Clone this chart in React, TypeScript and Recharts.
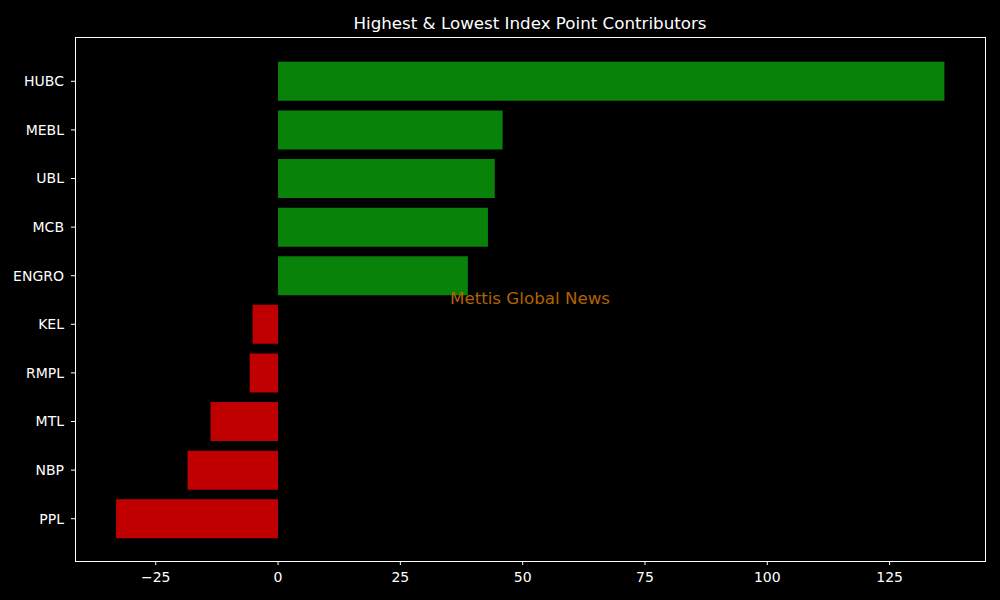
import { BarChart, Bar, XAxis, YAxis, Cell } from 'recharts';

// Index point contributors, top to bottom
const symbols = ['HUBC', 'MEBL', 'UBL', 'MCB', 'ENGRO', 'KEL', 'RMPL', 'MTL', 'NBP', 'PPL'];
const points = [136.2, 45.9, 44.3, 42.9, 38.8, -5.2, -5.8, -13.8, -18.5, -33.1];
const xTicks = [-25, 0, 25, 50, 75, 100, 125];

const chartData = symbols.map((s, i) => ({ symbol: s, value: points[i] }));

const FONT = '"DejaVu Sans", sans-serif';

// matplotlib prints a real minus sign
const fmtTick = (v: number) => String(v).replace('-', '\u2212');

export default function App() {
  return (
    <div style={{ position: 'absolute', left: 0, top: 0, width: 1000, height: 600, background: '#000', fontFamily: FONT }}>
      <div style={{ position: 'absolute', left: 75, width: 910, top: 11, textAlign: 'center', color: '#fff', fontSize: 16.7, lineHeight: '24px' }}>
        Highest &amp; Lowest Index Point Contributors
      </div>
      <BarChart
        width={1000}
        height={600}
        data={chartData}
        layout="vertical"
        margin={{ top: 37, right: 14, bottom: 0, left: 0 }}
        barCategoryGap="10%"
      >
        <XAxis
          type="number"
          dataKey="value"
          domain={[-41.5, 144.7]}
          ticks={xTicks}
          tickFormatter={fmtTick}
          height={39}
          allowDataOverflow
          stroke="#fff"
          axisLine={false}
          tickSize={4}
          tickMargin={7}
          tick={{ fill: '#fff', fontSize: 14, fontFamily: FONT }}
        />
        <YAxis
          type="category"
          dataKey="symbol"
          width={75}
          padding={{ top: 20, bottom: 18 }}
          stroke="#fff"
          axisLine={false}
          tickSize={4}
          tickMargin={7}
          tick={{ fill: '#fff', fontSize: 14, fontFamily: FONT }}
        />
        <Bar dataKey="value" isAnimationActive={false}>
          {chartData.map((d, i) => (
            <Cell key={`c-${i}`} fill={d.value >= 0 ? '#088208' : '#c00000'} />
          ))}
        </Bar>
      </BarChart>
      {/* axes frame, as matplotlib draws all four spines */}
      <div style={{ position: 'absolute', left: 75, top: 37, width: 909, height: 523, border: '1px solid #fff', pointerEvents: 'none' }} />
      <div style={{ position: 'absolute', left: 75, width: 910, top: 287, textAlign: 'center', color: '#b36200', fontSize: 16.7, lineHeight: '22px' }}>
        Mettis Global News
      </div>
    </div>
  );
}
